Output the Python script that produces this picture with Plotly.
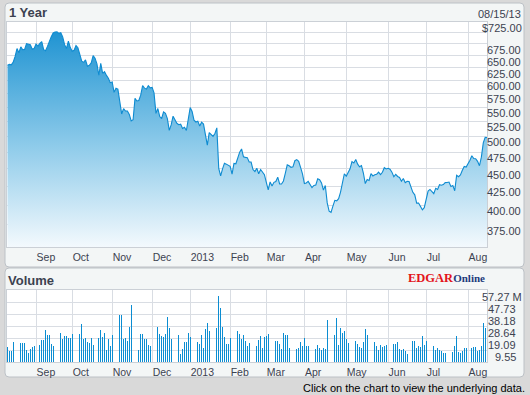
import numpy as np
import pandas as pd
import plotly.graph_objects as go

# ---------------- data ----------------
HOLIDAYS = ["2012-09-03", "2012-10-29", "2012-10-30", "2012-11-22", "2012-12-25",
            "2013-01-01", "2013-01-21", "2013-02-18", "2013-03-29", "2013-05-27", "2013-07-04"]
DATES = [d for d in pd.bdate_range("2012-08-13", "2013-08-15")
         if d.strftime("%Y-%m-%d") not in HOLIDAYS]

PRICE = [
    # Aug 2012
    630.00, 631.69, 630.83, 636.34, 648.11, 665.15, 656.06, 668.87, 662.63, 663.22,
    675.68, 674.80, 673.47, 663.87, 665.24,
    # Sep
    674.97, 670.23, 676.27, 680.44, 662.74, 660.59, 669.79, 682.98, 691.28, 699.78,
    701.91, 702.10, 698.70, 700.09, 690.79, 673.54, 665.18, 681.32, 667.10,
    # Oct
    659.39, 661.31, 671.45, 666.80, 652.59, 638.17, 635.85, 640.91, 628.10, 629.71,
    634.76, 649.79, 644.61, 632.64, 609.84, 634.03, 613.36, 616.83, 609.54, 604.00, 595.32,
    # Nov
    596.54, 576.80, 584.62, 582.85, 558.00, 537.75, 547.06, 542.83, 542.90, 536.88,
    525.62, 527.68, 565.73, 560.91, 561.70, 571.50, 589.53, 584.78, 582.94, 589.36, 585.28,
    # Dec
    586.19, 575.85, 538.79, 547.24, 533.25, 529.82, 541.39, 539.00, 529.69, 509.79,
    518.83, 533.90, 526.31, 521.73, 519.33, 520.17, 513.00, 515.06, 509.59, 532.17,
    # Jan 2013
    549.03, 542.10, 527.00, 523.90, 525.31, 517.10, 523.51, 520.30, 501.75, 485.92,
    506.09, 502.68, 500.00, 504.77, 514.01, 450.50, 439.88, 449.83, 458.27, 456.83, 455.49,
    # Feb
    453.62, 442.32, 457.84, 457.35, 468.22, 474.98, 479.93, 467.90, 467.01, 466.59,
    460.16, 459.99, 448.85, 446.06, 450.81, 442.80, 448.97, 444.57, 441.40,
    # Mar
    430.47, 420.05, 431.14, 425.66, 430.58, 431.72, 437.87, 428.43, 428.35, 432.50,
    443.66, 455.72, 454.49, 452.08, 452.73, 461.91, 463.58, 461.14, 452.08, 442.66,
    # Apr
    428.91, 429.79, 431.99, 427.72, 423.20, 426.21, 426.98, 435.69, 434.33, 429.80,
    419.85, 426.24, 402.80, 392.05, 390.53, 398.67, 406.13, 405.46, 408.38, 417.20,
    430.12, 442.78,
    # May
    439.29, 445.52, 449.98, 460.71, 458.66, 463.84, 456.77, 452.97, 454.74, 443.86,
    428.85, 434.58, 433.26, 442.93, 439.66, 441.35, 442.14, 445.15, 441.44, 444.95,
    451.58, 449.73,
    # Jun
    450.72, 449.31, 445.11, 438.46, 441.81, 438.89, 437.60, 432.19, 435.96, 430.05,
    432.00, 431.77, 423.00, 416.84, 413.50, 402.54, 402.63, 398.07, 393.78, 396.53,
    # Jul
    409.22, 418.49, 420.80, 417.42, 415.05, 422.35, 420.73, 427.29, 426.51, 427.44,
    430.20, 430.31, 430.99, 424.95, 426.31, 418.99, 440.51, 438.50, 440.99, 447.79,
    453.32, 452.53,
    # Aug
    456.68, 462.54, 469.45, 465.25, 464.98, 461.01, 454.45, 467.36, 489.57, 498.50, 497.91,
]

VOLUME_M = [
    11.9, 8.7, 8.7, 15.9, 21.5, 28.6, 28.6, 15.1, 15.1, 15.1,
    9.5, 7.2, 10.3, 11.9, 12.7, 11.9, 13.5, 13.5, 17.5, 17.5,
    25.4, 21.5, 21.5, 14.3, 12.7, 11.1, 11.9, 19.9, 23.1, 18.3,
    20.7, 20.7, 19.1, 19.1, 22.3, 15.1, 12.7, 20.7, 22.3, 30.2,
    18.3, 19.1, 15.9, 15.1, 19.1, 13.5, 16.7, 26.2, 19.1, 25.4,
    19.9, 23.1, 9.5, 18.3, 12.7, 21.5, 19.1, 13.5, 28.6, 37.4,
    37.4, 18.3, 19.1, 16.7, 27.8, 45.3, 29.4, 23.1, 12.7, 9.5,
    22.3, 22.3, 18.3, 18.3, 13.5, 12.7, 19.9, 37.4, 42.2, 27.8,
    22.3, 20.7, 20.0, 22.3,
    35.8, 27.0, 18.0, 22.3, 15.9, 16.7, 21.5, 6.4, 10.3, 15.9,
    15.9, 23.1, 19.9, 12.7, 21.5, 17.5, 15.9, 14.3, 21.5, 11.1,
    26.2, 31.0, 24.7, 15.9, 16.7, 15.9, 27.0, 52.5,
    42.9, 27.8, 19.9, 14.3, 14.3, 19.1, 16.7, 20.7, 20.7, 24.7,
    22.3, 18.3, 21.5, 16.7, 12.7, 15.1, 16.7, 15.9, 11.9, 12.7,
    17.5, 20.7, 11.1, 19.9, 20.7, 22.3, 15.9, 19.1, 13.5, 16.7,
    16.7, 14.3, 10.3, 23.1, 21.5, 21.5, 11.1, 13.5, 13.5, 17.5,
    10.3, 11.1, 15.9, 12.7, 19.1, 12.7, 12.7, 11.9, 13.5, 10.3,
    10.3, 13.5, 11.1, 9.5, 11.1, 10.3, 33.4,
    23.9, 23.9, 15.1, 21.5, 35.0, 13.5, 27.0, 23.1, 24.7, 18.3,
    15.1, 12.7, 17.5, 16.7, 16.7, 14.3, 11.9, 11.1, 15.9, 26.2,
    21.5, 15.1, 15.9, 15.9, 15.9, 12.7, 9.5, 13.5, 11.9, 12.7,
    13.5, 12.7, 10.3, 10.3, 14.3, 14.3, 15.9, 10.3, 9.5, 10.3,
    8.7, 6.4, 11.1, 12.7, 16.7, 16.7, 11.1, 12.7, 11.9, 20.7,
    13.5, 16.7, 8.0, 10.3, 11.1, 12.7, 9.5, 11.1, 9.5, 8.7,
    7.2, 7.2, 7.2, 9.5, 7.2, 8.0, 12.7, 20.7, 8.0, 7.2, 8.7,
    11.1, 11.1, 7.2, 9.5, 11.1, 11.9, 11.9, 8.7, 9.5, 12.7,
    31.0, 27.0, 18.0,
]

assert len(PRICE) == len(DATES) and len(VOLUME_M) == len(DATES), (len(DATES), len(PRICE), len(VOLUME_M))

MONTH_LABELS = ["Sep", "Oct", "Nov", "Dec", "2013", "Feb", "Mar", "Apr", "May", "Jun", "Jul", "Aug"]
PRICE_TICKS = [375, 400, 425, 450, 475, 500, 525, 550, 575, 600, 625, 650, 675, 700, 725]
PRICE_TICK_TEXT = ["375.00", "400.00", "425.00", "450.00", "475.00", "500.00", "525.00",
                   "550.00", "575.00", "600.00", "625.00", "650.00", "675.00", "", "$725.00"]
VOL_TICKS = [0, 9.545, 19.09, 28.635, 38.18, 47.725, 57.27]
VOL_TICK_TEXT = ["", "9.55", "19.09", "28.64", "38.18", "47.73", "57.27 M"]
TITLE_PRICE = "1 Year"
TITLE_VOL = "Volume"
AS_OF = "08/15/13"
FOOTER = "Click on the chart to view the underlying data."

# ---------------- geometry helpers (pixels -> paper) ----------------
L, R, T, B = 7, 487, 22, 362
PRICE_BOTTOM, VOL_TOP = 247, 290


def px(x):
    return (x - L) / (R - L)


def py(y):
    return (B - y) / (B - T)


def rrect(x0, y0, x1, y1, r):
    pts = [
        f"M {px(x0 + r)},{py(y0)}", f"L {px(x1 - r)},{py(y0)}",
        f"Q {px(x1)},{py(y0)} {px(x1)},{py(y0 + r)}", f"L {px(x1)},{py(y1 - r)}",
        f"Q {px(x1)},{py(y1)} {px(x1 - r)},{py(y1)}", f"L {px(x0 + r)},{py(y1)}",
        f"Q {px(x0)},{py(y1)} {px(x0)},{py(y1 - r)}", f"L {px(x0)},{py(y0 + r)}",
        f"Q {px(x0)},{py(y0)} {px(x0 + r)},{py(y0)}", "Z",
    ]
    return " ".join(pts)


N = len(DATES)
idx = list(range(N))
month_starts = [i for i in range(1, N) if DATES[i].month != DATES[i - 1].month]

FLOOR = 349.0
TOP = 725.0
XR = [-0.26, 251.96]

NARROW = "Liberation Sans Narrow, Arial Narrow, Liberation Sans, Arial, sans-serif"
SANS = "Liberation Sans, Arial, sans-serif"
TXT = "#3c4250"
GRID = "#d9dde3"
FRAME = "#cbd0d6"
BLUE = "#0e8bd1"

fig = go.Figure()
fig.add_trace(go.Scatter(x=idx, y=[FLOOR] * N, mode="lines", line=dict(width=0),
                         hoverinfo="skip", showlegend=False, xaxis="x", yaxis="y"))
fig.add_trace(go.Scatter(
    x=idx, y=PRICE, mode="lines", line=dict(color=BLUE, width=1.1),
    fill="tonexty",
    fillgradient=dict(type="vertical", start=FLOOR, stop=TOP,
                      colorscale=[[0, "#f3f9fd"], [0.45, "#8ecbea"], [1, "#168fd0"]]),
    showlegend=False, xaxis="x", yaxis="y"))
fig.add_trace(go.Bar(x=idx, y=VOLUME_M, width=0.38,
                     marker=dict(color="#0b8dd2", line=dict(width=0)),
                     showlegend=False, xaxis="x2", yaxis="y2"))

xcommon = dict(range=XR, tickmode="array", tickvals=month_starts, ticktext=MONTH_LABELS,
               ticklabelposition="outside right", ticks="", showgrid=True, gridcolor=GRID,
               gridwidth=1, zeroline=False, showline=True, mirror=True, linecolor=FRAME,
               tickfont=dict(family=NARROW, size=10.5, color=TXT), fixedrange=True)

fig.update_layout(
    width=530, height=395,
    margin=dict(l=L, r=530 - R, t=T, b=395 - B),
    paper_bgcolor="#d9d9d9", plot_bgcolor="rgba(0,0,0,0)",
    bargap=0, showlegend=False, hovermode=False,
    xaxis=dict(domain=[0, 1], anchor="y", **xcommon),
    xaxis2=dict(domain=[0, 1], anchor="y2", **xcommon),
    yaxis=dict(domain=[py(PRICE_BOTTOM), 1], type="log",
               range=[np.log10(FLOOR), np.log10(TOP)], tickmode="array",
               tickvals=PRICE_TICKS, showticklabels=False, ticks="", showgrid=True,
               gridcolor=GRID, zeroline=False, showline=True, mirror=True,
               linecolor=FRAME, side="right", fixedrange=True),
    yaxis2=dict(domain=[0, py(VOL_TOP)], range=[0, VOL_TICKS[-1]], tickmode="array",
                tickvals=VOL_TICKS, showticklabels=False, ticks="", showgrid=True,
                gridcolor=GRID, zeroline=False, showline=True, mirror=True,
                linecolor=FRAME, side="right", fixedrange=True),
)

shapes = [
    dict(type="path", path=rrect(5, 3, 524, 267, 4), xref="paper", yref="paper",
         fillcolor="#f3f6f6", line=dict(color="#bcc1c6", width=1), layer="below"),
    dict(type="path", path=rrect(5, 268, 524, 377, 4), xref="paper", yref="paper",
         fillcolor="#f3f6f6", line=dict(color="#bcc1c6", width=1), layer="below"),
    dict(type="rect", x0=0, x1=1, y0=py(PRICE_BOTTOM), y1=1, xref="paper", yref="paper",
         fillcolor="white", line=dict(width=0), layer="below"),
    dict(type="rect", x0=0, x1=1, y0=0, y1=py(VOL_TOP), xref="paper", yref="paper",
         fillcolor="white", line=dict(width=0), layer="below"),
]
fig.update_layout(shapes=shapes)

ann = []
ann.append(dict(text=f"<b>{TITLE_PRICE}</b>", x=px(7), y=py(12), xref="paper", yref="paper",
                xanchor="left", yanchor="middle", showarrow=False,
                font=dict(family=SANS, size=13, color=TXT)))
ann.append(dict(text=AS_OF, x=px(522.5), y=py(14), xref="paper", yref="paper",
                xanchor="right", yanchor="middle", showarrow=False,
                font=dict(family=SANS, size=11, color=TXT)))
ann.append(dict(text=f"<b>{TITLE_VOL}</b>", x=px(6), y=py(280), xref="paper", yref="paper",
                xanchor="left", yanchor="middle", showarrow=False,
                font=dict(family=SANS, size=13, color=TXT)))
ann.append(dict(text="<b>EDGAR</b><span style='font-size:11px;color:#1d3b7c'><b>Online</b></span>",
                x=px(406), y=py(278), xref="paper", yref="paper",
                xanchor="left", yanchor="middle", showarrow=False,
                font=dict(family="Liberation Serif, Times New Roman, serif", size=12.5,
                          color="#e3141b")))
ann.append(dict(text=FOOTER, x=px(527), y=py(387.5), xref="paper", yref="paper",
                xanchor="right", yanchor="middle", showarrow=False,
                font=dict(family=SANS, size=11, color="#000000")))

for v, t in zip(PRICE_TICKS, PRICE_TICK_TEXT):
    if not t:
        continue
    ann.append(dict(text=t, x=px(523.5 if t.startswith("$") else 522.5), y=np.log10(v),
                    xref="paper", yref="y", xanchor="right", yanchor="top", yshift=2,
                    showarrow=False, font=dict(family=NARROW, size=11, color=TXT)))
for v, t in zip(VOL_TICKS, VOL_TICK_TEXT):
    if not t:
        continue
    ann.append(dict(text=t, x=px(524 if t.endswith("M") else 518), y=v,
                    xref="paper", yref="y2", xanchor="right", yanchor="top", yshift=1,
                    showarrow=False, font=dict(family=NARROW, size=11, color=TXT)))
fig.update_layout(annotations=ann)

fig.write_html("out.html", config={"displayModeBar": False, "staticPlot": True},
               post_script="document.body.style.margin='0px';document.body.style.overflow='hidden';")
